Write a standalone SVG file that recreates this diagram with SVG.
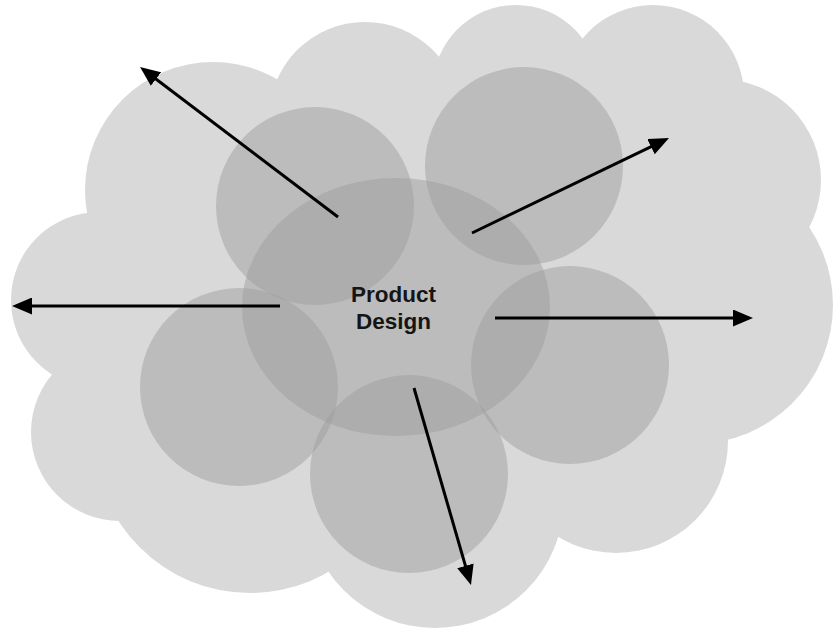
<svg xmlns="http://www.w3.org/2000/svg" width="833" height="630" viewBox="0 0 833 630">
<style>
.cloud{fill:#d9d9d9}
.bub{fill:#9d9d9d;fill-opacity:0.48}
.arr{stroke:#000;stroke-width:3;fill:none;marker-end:url(#ah)}
.lbl{font-family:"Liberation Sans",Arial,sans-serif;font-weight:bold;font-size:22.5px;fill:#151515;text-anchor:middle}
</style>
<defs>
<marker id="ah" markerUnits="userSpaceOnUse" markerWidth="20" markerHeight="17" refX="10" refY="8.5" orient="auto">
<path d="M0,0 L20,8.5 L0,17 z" fill="#000"/>
</marker>
</defs>
<rect width="833" height="630" fill="#fff"/>
<g id="cloud">
<circle class="cloud" cx="213" cy="190" r="128"/>
<circle class="cloud" cx="365" cy="118" r="96"/>
<circle class="cloud" cx="516" cy="88" r="83"/>
<circle class="cloud" cx="653" cy="96" r="91"/>
<circle class="cloud" cx="720" cy="180" r="101"/>
<circle class="cloud" cx="694" cy="305" r="139"/>
<circle class="cloud" cx="616" cy="441" r="112"/>
<circle class="cloud" cx="435" cy="499" r="129"/>
<circle class="cloud" cx="250" cy="437" r="156"/>
<circle class="cloud" cx="120" cy="432" r="89"/>
<circle class="cloud" cx="99" cy="300" r="88"/>
<ellipse class="cloud" cx="420" cy="320" rx="330" ry="230"/>
</g>
<g id="circle-top-left"><circle class="bub" cx="315" cy="206" r="99"/></g>
<g id="circle-top-right"><circle class="bub" cx="524" cy="166" r="99"/></g>
<g id="circle-left"><circle class="bub" cx="239" cy="387" r="99"/></g>
<g id="circle-right"><circle class="bub" cx="570" cy="365" r="99"/></g>
<g id="circle-bottom"><circle class="bub" cx="409" cy="474" r="99"/></g>
<g id="product-design">
<ellipse class="bub" cx="396" cy="307" rx="154" ry="129"/>
<text class="lbl" x="393.5" y="302">Product</text>
<text class="lbl" x="393.5" y="329">Design</text>
</g>
<g id="connectors">
<line class="arr" x1="338" y1="217" x2="148" y2="73"/>
<line class="arr" x1="472" y1="233" x2="660" y2="142.3"/>
<line class="arr" x1="280" y1="306" x2="22" y2="306"/>
<line class="arr" x1="495" y1="318" x2="743" y2="318"/>
<line class="arr" x1="414" y1="388" x2="468.2" y2="575.4"/>
</g>
</svg>
